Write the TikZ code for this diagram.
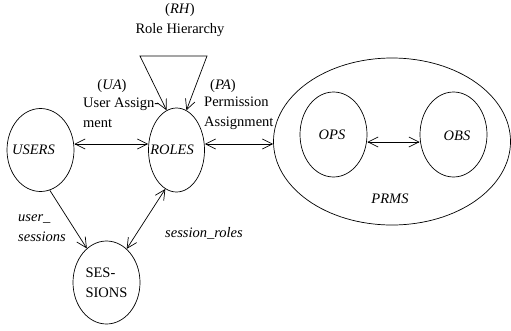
\documentclass[tikz,border=0pt]{standalone}
\usepackage{fontspec}
\setmainfont{Liberation Serif}
\usetikzlibrary{arrows.meta,shapes.geometric}
\tikzset{
  setnode/.style={draw, ellipse, inner sep=0pt, line width=0.7pt},
  assoc/.style={line width=0.7pt, {Straight Barb[length=10pt,width=10pt]}-{Straight Barb[length=10pt,width=10pt]}},
  toone/.style={line width=0.7pt, -{Straight Barb[length=10pt,width=10pt]}},
  lbl/.style={font=\fontsize{14.5}{20}\selectfont, inner sep=0pt}
}
\begin{document}
\begin{tikzpicture}[x=1pt,y=-1pt]
\useasboundingbox (0,0) rectangle (511,330);

\node[setnode, minimum width=67pt, minimum height=83pt] (users) at (40.5,150) {};
\node[setnode, minimum width=56pt, minimum height=84pt] (roles) at (176.5,150) {};
\node[setnode, lbl, align=left, minimum width=67pt, minimum height=83pt] (sessions) at (106.5,282.5) {SES-\\SIONS};
\node[setnode, minimum width=237pt, minimum height=167pt] (prms) at (392,141.5) {};
\node[setnode, minimum width=67pt, minimum height=85pt] (ops) at (333.5,134.5) {};
\node[setnode, minimum width=67pt, minimum height=85pt] (obs) at (453.5,134.5) {};

\node[lbl] (userstxt) at (33.5,150) {\textit{USERS}};
\node[lbl] (rolestxt) at (172,150) {\textit{ROLES}};
\node[lbl] (opstxt) at (332,135) {\textit{OPS}};
\node[lbl] (obstxt) at (457,136) {\textit{OBS}};
\node[lbl] (prmstxt) at (390,199) {\textit{PRMS}};

\coordinate (rhl) at (140,56);
\coordinate (rhr) at (207,56);
\draw[assoc] (roles.104) -- (rhl) -- (rhr) -- (roles.76);
\node[lbl, align=center] (rhtxt) at (180,20) {(\textit{RH})\\Role Hierarchy};

\draw[assoc] ([yshift=6pt]users.east) -- ([yshift=6pt]roles.west);
\node[lbl] (uatxt) at (112,86) {(\textit{UA})};
\node[lbl, align=left, anchor=west] (uaname) at (83,113) {User Assign-\\ment};

\draw[assoc] ([yshift=6pt]roles.east) -- ([yshift=-2.5pt]prms.west);
\node[lbl] (patxt) at (223,86) {(\textit{PA})};
\node[lbl, align=left, anchor=west] (paname) at (204,113) {Permission\\Assignment};

\draw[assoc] ([yshift=-7.5pt]ops.east) -- ([yshift=-7.5pt]obs.west);

\draw[toone] (users.-77) -- (sessions.120);
\node[lbl, align=left, anchor=west] (ustxt) at (18,228) {\textit{user\_}\\\textit{sessions}};

\draw[assoc] (roles.-106) -- (sessions.59);
\node[lbl, anchor=west] (srtxt) at (165,233) {\textit{session\_roles}};
\end{tikzpicture}
\end{document}
